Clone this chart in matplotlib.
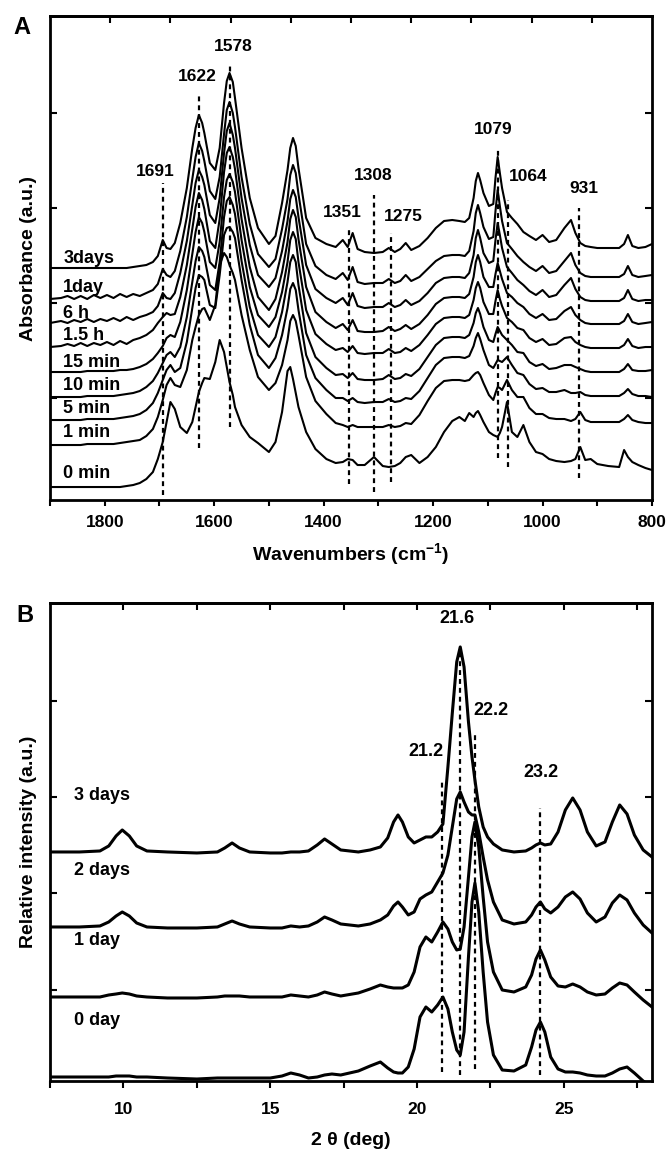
import numpy as np
import matplotlib.pyplot as plt
from matplotlib.ticker import MultipleLocator

plt.rcParams['font.family'] = ['Liberation Sans', 'DejaVu Sans']
plt.rcParams['font.weight'] = 'bold'
plt.rcParams['axes.labelweight'] = 'bold'
plt.rcParams['mathtext.fontset'] = 'custom'
plt.rcParams['mathtext.bf'] = 'Liberation Sans:bold'
plt.rcParams['mathtext.rm'] = 'Liberation Sans'
plt.rcParams['mathtext.default'] = 'bf'

# ---------------- panel A : FTIR spectra (absorbance, arbitrary units) ----------------
wn = [1900, 1880, 1868, 1856, 1844, 1832, 1820, 1808, 1796, 1784,
      1772, 1760, 1748, 1736, 1724, 1712, 1703, 1694, 1687, 1680,
      1672, 1662, 1650, 1640, 1634, 1628, 1622, 1618, 1608, 1598,
      1590, 1582, 1577, 1572, 1566, 1562, 1550, 1535, 1520, 1500,
      1488, 1476, 1466, 1461, 1456, 1451, 1446, 1432, 1415, 1395,
      1378, 1365, 1356, 1347, 1338, 1325, 1308, 1292, 1281, 1270,
      1260, 1250, 1240, 1225, 1210, 1195, 1180, 1165, 1152, 1142,
      1134, 1126, 1122, 1118, 1114, 1108, 1098, 1090, 1086, 1082,
      1078, 1074, 1065, 1056, 1046, 1035, 1024, 1012, 1000, 988,
      975, 960, 948, 940, 931, 922, 912, 900, 880, 860,
      851, 844, 836, 825, 812, 800]

ir_labels = ['3days', '1day', '6 h', '1.5 h', '15 min', '10 min', '5 min', '1 min', '0 min']
ir_offsets = [232, 201, 177, 153, 128, 103, 80, 55, 13]
ir_label_gap = [10, 12, 10, 12, 10, 12, 12, 13, 14]

ir_3days = [0, 0, 0, 0, 0, 0, 0, 0, 0, 0,
            0, 0, 1, 2, 3, 6, 12, 28, 20, 19,
            25, 45, 80, 120, 140, 153, 145, 135, 105, 98,
            120, 165, 187, 195, 186, 170, 120, 70, 40, 24,
            32, 65, 98, 120, 130, 122, 100, 50, 30, 24,
            21, 28, 21, 35, 19, 16, 15, 16, 20, 16,
            19, 25, 18, 22, 30, 40, 47, 48, 47, 46,
            50, 70, 87, 95, 88, 75, 62, 64, 90, 111,
            95, 80, 56, 50, 44, 36, 32, 28, 33, 26,
            28, 40, 48, 35, 25, 22, 21, 20, 20, 20,
            24, 33, 22, 20, 21, 24]
ir_1day = [0, 1, 3, 0, 3, 0, 4, 1, 4, 1,
           5, 2, 5, 3, 6, 9, 15, 30, 24, 22,
           28, 48, 82, 120, 142, 156, 148, 138, 108, 100,
           122, 165, 189, 197, 186, 172, 122, 75, 45, 32,
           40, 70, 100, 124, 134, 126, 105, 55, 33, 24,
           20, 26, 19, 32, 17, 15, 16, 16, 20, 16,
           18, 24, 18, 22, 30, 38, 43, 44, 44, 43,
           48, 68, 86, 94, 86, 72, 60, 62, 88, 109,
           93, 78, 56, 50, 43, 37, 32, 28, 33, 26,
           28, 38, 46, 34, 26, 23, 22, 22, 22, 22,
           25, 33, 24, 22, 23, 24]
ir_6h = [0, 2, 0, 3, 1, 4, 1, 4, 2, 5,
         2, 6, 3, 6, 8, 11, 17, 30, 25, 24,
         30, 50, 82, 118, 140, 153, 146, 138, 108, 100,
         125, 170, 192, 200, 188, 175, 125, 78, 48, 36,
         45, 72, 102, 124, 133, 126, 106, 58, 34, 25,
         20, 25, 18, 30, 17, 15, 16, 16, 20, 16,
         18, 23, 18, 22, 30, 40, 45, 46, 46, 45,
         50, 68, 85, 93, 85, 70, 60, 62, 83, 100,
         88, 75, 56, 50, 43, 38, 32, 28, 33, 26,
         28, 38, 45, 34, 26, 23, 22, 22, 22, 22,
         25, 33, 24, 22, 23, 23]
ir_1_5h = [0, 1, 3, 1, 4, 1, 4, 2, 5, 2,
           6, 3, 7, 9, 12, 17, 24, 30, 34, 32,
           33, 50, 82, 118, 140, 154, 147, 138, 106, 99,
           128, 175, 194, 200, 190, 178, 128, 80, 50, 37,
           48, 75, 105, 128, 137, 130, 108, 60, 35, 25,
           19, 23, 17, 27, 16, 15, 15, 16, 20, 16,
           18, 22, 18, 23, 32, 43, 49, 50, 50, 49,
           53, 70, 85, 92, 85, 70, 60, 60, 73, 84,
           76, 68, 54, 50, 44, 40, 33, 29, 33, 27,
           28, 36, 40, 32, 27, 24, 23, 23, 23, 23,
           26, 33, 25, 23, 24, 25]
ir_15min = [0, 0, 0, 0, 0, 1, 1, 1, 1, 1,
            2, 2, 3, 5, 8, 13, 19, 26, 34, 37,
            35, 50, 82, 118, 140, 155, 149, 140, 110, 104,
            130, 175, 192, 198, 190, 180, 132, 85, 57, 45,
            55, 80, 110, 132, 140, 133, 110, 62, 38, 28,
            22, 24, 20, 26, 19, 18, 19, 19, 23, 19,
            20, 24, 21, 27, 37, 48, 54, 55, 55, 54,
            57, 72, 84, 90, 84, 70, 58, 58, 71, 82,
            73, 66, 54, 50, 44, 42, 34, 30, 33, 27,
            28, 34, 35, 30, 27, 25, 24, 24, 24, 24,
            27, 33, 26, 24, 25, 25]
ir_10min = [0, 0, 0, 0, 0, 1, 1, 1, 1, 1,
            2, 3, 4, 6, 10, 16, 24, 34, 42, 45,
            40, 50, 80, 115, 136, 150, 146, 140, 112, 107,
            135, 180, 196, 200, 192, 183, 136, 90, 62, 50,
            60, 85, 115, 135, 142, 135, 112, 64, 40, 29,
            22, 23, 19, 24, 18, 17, 17, 18, 22, 18,
            19, 23, 21, 28, 40, 52, 59, 60, 60, 59,
            62, 74, 84, 89, 83, 70, 57, 55, 63, 70,
            66, 62, 57, 52, 45, 44, 35, 31, 33, 28,
            29, 32, 32, 30, 28, 26, 25, 25, 25, 25,
            28, 33, 27, 26, 26, 27]
ir_5min = [0, 0, 0, 0, 0, 1, 1, 1, 1, 1,
           2, 3, 4, 6, 10, 17, 27, 40, 50, 55,
           48, 52, 78, 112, 132, 145, 143, 140, 115, 112,
           145, 185, 192, 193, 188, 182, 140, 95, 65, 52,
           62, 85, 112, 131, 137, 130, 110, 65, 42, 30,
           22, 22, 19, 22, 18, 17, 18, 18, 21, 18,
           19, 22, 21, 29, 42, 55, 62, 63, 63, 62,
           64, 74, 82, 87, 81, 70, 55, 52, 56, 60,
           59, 58, 63, 55, 47, 45, 36, 31, 32, 28,
           28, 30, 27, 27, 28, 25, 24, 24, 24, 24,
           27, 31, 26, 24, 24, 23]
ir_1min = [0, 0, 0, 0, 0, 1, 1, 1, 1, 1,
           2, 3, 4, 5, 9, 16, 28, 45, 60, 67,
           60, 58, 75, 105, 118, 130, 136, 137, 125, 140,
           180, 192, 188, 180, 172, 165, 130, 95, 68, 55,
           62, 80, 105, 124, 130, 124, 110, 68, 44, 31,
           22, 20, 18, 20, 18, 18, 18, 18, 20, 18,
           19, 22, 21, 30, 44, 57, 64, 65, 65, 64,
           65, 70, 72, 73, 70, 62, 50, 45, 52, 58,
           57, 55, 65, 55, 48, 48, 37, 31, 31, 27,
           26, 26, 24, 26, 33, 25, 23, 23, 23, 23,
           26, 30, 25, 23, 22, 22]
ir_0min = [0, 0, 0, 0, 0, 0, 0, 0, 0, 0,
           0, 1, 2, 4, 8, 15, 28, 45, 65, 85,
           78, 60, 54, 65, 80, 95, 104, 109, 108, 125,
           147, 135, 120, 105, 92, 80, 62, 50, 44, 35,
           45, 75, 116, 120, 108, 94, 80, 55, 38, 28,
           24, 25, 28, 27, 22, 22, 30, 21, 20, 21,
           24, 30, 32, 24, 30, 40, 55, 66, 70, 66,
           74, 70, 74, 76, 72, 65, 55, 52, 51, 50,
           54, 60, 85, 55, 50, 62, 45, 35, 33, 28,
           26, 25, 26, 28, 40, 27, 28, 23, 21, 20,
           37, 30, 25, 22, 19, 17]
ir_spectra = [ir_3days, ir_1day, ir_6h, ir_1_5h, ir_15min, ir_10min, ir_5min, ir_1min, ir_0min]

ir_peaks = ['1691', '1622', '1578', '1351', '1308', '1275', '1079', '1064', '931']
ir_peak_x = [1693, 1628, 1571, 1354, 1308, 1277, 1082, 1063, 934]
ir_peak_lo = [5, 52, 73, 16, 8, 18, 42, 33, 22]
ir_peak_hi = [317, 405, 437, 273, 305, 267, 353, 300, 292]
ir_text_x = [1707, 1630, 1566, 1365, 1310, 1255, 1091, 1027, 924]
ir_text_y = [328, 423, 453, 287, 324, 283, 370, 323, 311]

# ---------------- panel B : XRD patterns ----------------
tt = [7.5, 8.5, 9.2, 9.5, 9.75, 9.96, 10.2, 10.45, 10.8, 11.5,
      12.5, 13.2, 13.45, 13.7, 13.95, 14.3, 15.0, 15.4, 15.7, 16.0,
      16.3, 16.6, 16.85, 17.1, 17.4, 18.0, 18.4, 18.75, 19.0, 19.2,
      19.35, 19.5, 19.7, 19.9, 20.1, 20.3, 20.5, 20.7, 20.88, 21.05,
      21.2, 21.35, 21.47, 21.6, 21.75, 21.87, 21.97, 22.1, 22.25, 22.4,
      22.6, 22.9, 23.3, 23.7, 23.9, 24.05, 24.2, 24.35, 24.55, 24.8,
      25.05, 25.3, 25.55, 25.8, 26.1, 26.4, 26.65, 26.9, 27.15, 27.4,
      27.7, 28.0]

xrd_labels = ['3 days', '2 days', '1 day', '0 day']
xrd_offsets = [229, 154, 84, 4]
xrd_3days = [0, 0, 1, 6, 16, 22, 16, 6, 1, 0,
             -1, 0, 4, 9, 4, 0, -1, -1, 0, 0,
             1, 7, 13, 8, 2, 0, 2, 5, 14, 30,
             37, 30, 15, 9, 12, 15, 15, 20, 28, 85,
             139, 190, 205, 185, 130, 95, 72, 45, 25, 15,
             8, 2, 0, 1, 4, 7, 9, 7, 8, 20,
             42, 54, 42, 20, 6, 10, 30, 47, 38, 17,
             2, -5]
xrd_2days = [0, 0, 1, 5, 11, 15, 11, 4, 0, -1,
             -1, 0, 3, 6, 3, 0, -1, -1, 1, 0,
             1, 5, 10, 7, 3, 1, 3, 7, 12, 21,
             25, 20, 12, 15, 28, 32, 35, 45, 54, 72,
             100, 128, 135, 125, 115, 112, 112, 95, 70, 47,
             25, 7, 3, 5, 12, 20, 25, 18, 14, 20,
             30, 35, 28, 14, 5, 10, 24, 32, 27, 14,
             2, -6]
xrd_1day = [0, 0, 0, 2, 3, 4, 3, 1, 0, -1,
            -1, 0, 1, 1, 1, 0, 0, 0, 2, 1,
            0, 2, 5, 3, 1, 4, 8, 12, 10, 9,
            9, 9, 12, 25, 50, 60, 55, 65, 75, 68,
            55, 47, 48, 70, 120, 160, 175, 150, 100, 55,
            25, 7, 5, 10, 22, 38, 47, 37, 20, 11,
            10, 13, 10, 5, 2, 3, 9, 14, 12, 5,
            -3, -10]
xrd_0day = [0, 0, 0, 0, 1, 1, 1, 0, 0, -1,
            -2, -1, -1, -1, -1, -1, -1, 1, 4, 2,
            -1, 0, 2, 3, 2, 6, 11, 15, 9, 5,
            4, 4, 10, 28, 60, 70, 65, 72, 80, 68,
            45, 27, 22, 45, 120, 175, 194, 165, 105, 55,
            22, 7, 6, 12, 30, 47, 55, 45, 20, 8,
            5, 5, 4, 2, 1, 1, 4, 8, 10, 4,
            -4, -10]
xrd_patterns = [xrd_3days, xrd_2days, xrd_1day, xrd_0day]

xrd_peaks = ['21.2', '21.6', '22.2', '23.2']
xrd_peak_x = [20.85, 21.47, 21.97, 24.2]
xrd_peak_lo = [9, 6, 12, 6]
xrd_peak_hi = [299, 431, 346, 273]
xrd_text_x = [20.31, 21.36, 22.52, 24.22]
xrd_text_y = [329, 462, 370, 308]

dash = (0, (2.2, 1.8))

fig = plt.figure(figsize=(6.67, 11.5), dpi=100)

# ---- A ----
axA = fig.add_axes([0.075, 0.5652, 0.9025, 0.4209])
for lab, off, gap, h in zip(ir_labels, ir_offsets, ir_label_gap, ir_spectra):
    axA.plot(wn, np.array(h) + off, color='black', lw=1.5)
    axA.text(1876, off + gap, lab, ha='left', va='center', fontsize=13)
for x, lo, hi in zip(ir_peak_x, ir_peak_lo, ir_peak_hi):
    axA.plot([x, x], [lo, hi], color='black', lw=1.6, ls=dash)
for t, x, y in zip(ir_peaks, ir_text_x, ir_text_y):
    axA.text(x, y, t, ha='center', va='center', fontsize=12.5)
axA.set_xlim(1900, 800)
axA.set_ylim(0, 484)
axA.xaxis.set_major_locator(MultipleLocator(200))
axA.xaxis.set_minor_locator(MultipleLocator(100))
axA.tick_params(axis='x', which='both', direction='out', length=4, width=1.5,
                labelsize=12.5, pad=7, top=False)
axA.set_yticks([102, 197, 292, 387])
axA.tick_params(axis='y', direction='in', length=5, width=1.5, left=True, right=True,
                labelleft=False)
topA = axA.secondary_xaxis('top')
topA.set_xticks([1790, 1680, 1570, 1460, 1350, 1240, 1130, 1020, 910])
topA.set_xticklabels([])
topA.tick_params(direction='in', length=5, width=1.5)
topA.spines['top'].set_linewidth(2)
for s in axA.spines.values():
    s.set_linewidth(2)
axA.set_xlabel('Wavenumbers (cm$^{-1}$)', fontsize=14)
axA.set_ylabel('Absorbance (a.u.)', fontsize=14)
axA.yaxis.set_label_coords(-0.022, 0.5)
axA.xaxis.set_label_coords(0.5, -0.085)

# ---- B ----
axB = fig.add_axes([0.075, 0.06, 0.9025, 0.4157])
for lab, off, h in zip(xrd_labels, xrd_offsets, xrd_patterns):
    axB.plot(tt, np.array(h) + off, color='black', lw=2.2)
    axB.text(8.3, off + 56, lab, ha='left', va='center', fontsize=13)
for x, lo, hi in zip(xrd_peak_x, xrd_peak_lo, xrd_peak_hi):
    axB.plot([x, x], [lo, hi], color='black', lw=1.6, ls=dash)
for t, x, y in zip(xrd_peaks, xrd_text_x, xrd_text_y):
    axB.text(x, y, t, ha='center', va='center', fontsize=13)
axB.set_xlim(7.5, 28)
axB.set_ylim(0, 478)
axB.xaxis.set_major_locator(MultipleLocator(5))
axB.xaxis.set_minor_locator(MultipleLocator(2.5))
axB.tick_params(axis='x', which='both', direction='out', length=5, width=1.5,
                labelsize=12.5, pad=10, top=False)
axB.set_yticks([91, 188, 284, 380])
axB.tick_params(axis='y', direction='in', length=5, width=1.5, left=True, right=True,
                labelleft=False)
topB = axB.secondary_xaxis('top')
topB.set_xticks([10, 12.5, 15, 17.5, 20, 22.5, 25, 27.5])
topB.set_xticklabels([])
topB.tick_params(direction='in', length=5, width=1.5)
topB.spines['top'].set_linewidth(2)
for s in axB.spines.values():
    s.set_linewidth(2)
axB.set_xlabel('2 θ (deg)', fontsize=14)
axB.set_ylabel('Relative intensity (a.u.)', fontsize=14)
axB.yaxis.set_label_coords(-0.022, 0.5)
axB.xaxis.set_label_coords(0.5, -0.106)

fig.text(22 / 667, 1 - 28 / 1150, 'A', fontsize=17, ha='center', va='center')
fig.text(25 / 667, 1 - 615 / 1150, 'B', fontsize=17, ha='center', va='center')

fig.savefig('out.png', dpi=100)
